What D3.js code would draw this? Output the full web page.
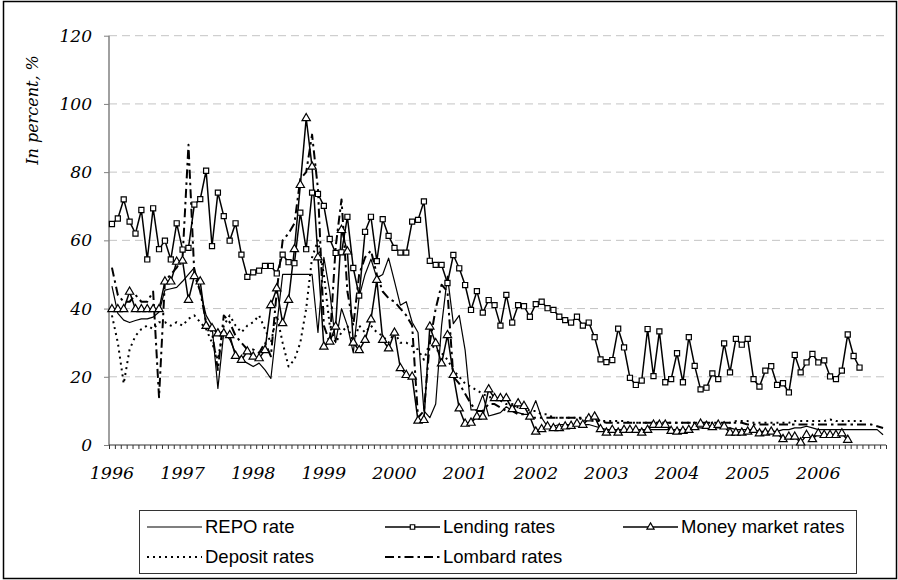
<!DOCTYPE html>
<html><head><meta charset="utf-8">
<script src="https://cdn.jsdelivr.net/npm/d3@7/dist/d3.min.js"></script>
<style>body{margin:0;background:#fff}svg{display:block}</style>
</head><body>
<svg id="chart" width="898" height="580"></svg>
<script>
// ---- data ----
const years = [1996,1997,1998,1999,2000,2001,2002,2003,2004,2005,2006];
const monthsPerYear = 12;
const yTicks = [0,20,40,60,80,100,120];
const seriesNames = ["REPO rate","Lending rates","Money market rates","Deposit rates","Lombard rates"];

const repoRate = [
 46.6,38.6,36.6,35.9,36.5,37,37,37.5,39,45.4,45.8,46.2,
 48,50,52,45,38,35,16.6,33,31,27,25,24,
 23,24,22,19.5,35,50,50,50,50,50,50,33,
 55,45,30,40,35,27,43.5,50,54.5,49,50,54.8,
 48,41,42,36,33,10,8,12,35,49.5,35.6,38,
 27.8,10.3,10.3,14.7,8.5,9,9.5,11.2,10,9.5,9,9,
 13,8,5.4,5.5,6,6,6,6,6,6,5.5,5,
 4.5,4.5,4.5,4.5,4.5,4.5,4.5,4.5,4.5,4.5,4.5,4.5,
 4.5,4.5,4.5,5,5,5,5,5,5,5,4.5,4.5,
 4.5,4.5,4,4,4,4,4.5,4.5,5,5,5.5,5,
 4.5,4.5,4.5,4.5,4.5,4.5,4.5,4.5,4.5,4.5,4.5,3];

const lendingRates = [
 64.8,66.4,72.0,65.5,62.0,68.9,54.4,69.4,57.4,59.9,54.4,65.0,
 57.3,57.8,70.5,72.1,80.4,58.3,74.0,67.1,59.9,65.0,55.8,49.3,
 50.6,51.1,52.5,52.5,50.3,55.8,53.6,53.3,68.1,57.4,74.0,73.6,
 70.1,60.4,56.3,56.5,66.9,51.9,43.8,62.5,66.9,53.9,66.2,61.3,
 57.8,56.4,56.4,65.5,66.0,71.4,54.0,52.8,52.8,47.5,55.7,51.8,
 46.9,39.6,45.1,38.8,42.5,41.0,35.0,44.0,35.9,41.0,40.7,37.6,
 41.3,42.0,40.1,39.6,37.6,36.6,35.9,37.6,35.0,35.9,31.6,25.1,
 24.3,24.9,34.1,28.6,19.7,17.6,18.9,34.0,20.2,33.3,18.4,19.3,
 26.9,18.4,31.6,23.2,16.3,16.8,21.0,19.3,29.8,21.3,31.1,29.4,
 31.1,19.3,17.1,21.8,23.1,17.6,18.1,15.4,26.4,21.3,24.2,26.7,
 24.2,24.8,20.1,19.3,21.8,32.4,26.1,22.7];

const moneyMarketRates = [
 39.8,39.8,39.8,44.9,39.8,39.8,39.8,39.8,39.8,47.9,47.9,53.7,
 54.0,42.5,49.5,47.9,34.9,34.2,32.7,32.7,32.2,26.1,24.9,27.4,
 25.9,25.4,27.8,41.0,45.9,35.7,42.5,57.4,76.2,95.8,81.6,55.0,
 28.8,30.3,34.7,63.0,56.7,30.0,27.8,30.8,36.8,48.4,30.8,28.3,
 32.9,22.5,20.5,20.0,7.1,7.3,34.7,29.8,23.9,32.2,20.5,10.7,
 6.2,6.5,8.3,8.3,16.3,13.7,13.7,13.7,10.5,12.2,11.4,8.3,
 3.9,4.6,5.4,4.9,4.9,5.4,5.6,6.2,5.9,7.8,8.3,4.6,
 3.6,4.4,3.6,4.4,4.4,4.4,3.6,4.4,5.9,5.9,5.9,4.1,
 3.9,4.1,4.4,5.2,6.2,5.6,5.2,5.9,5.4,3.6,3.6,3.6,
 3.9,4.4,3.4,3.6,3.9,3.4,1.7,2.4,2.4,0.7,2.9,1.7,
 3.4,2.9,2.9,2.9,3.4,1.5];

const depositRates = [
 38,30,18,28,32,34,35,34,36,36,35,36,
 35,37,38,36,34,30,25,35,38,35,33,35,
 36,38,34,30,38,30,23,25,30,40,55,60,
 50,35,30,33,35,30,35,33,35,33,32,30,
 33,30,30,29,28,25,30,28,27,25,22,20,
 18,17,16,15,14,14,13,12,12,11,11,10,
 10,9,9,8,8,8,8,8,7.5,7.5,7,7,
 7,7,7,7,6.5,6.5,6.5,6.5,6.5,6.5,6.5,6.5,
 6.5,6.5,6.5,6.5,6.5,6.5,6.5,6.5,6.5,6.5,7,7,
 7,6.5,6.5,6.5,6.5,6.5,6.5,6.5,7,7,7,7,
 7,7,7.5,7,7,7,7,7,7,null,null,null];

const lombardRates = [
 52,44,42,42,44,42,42,45,14,48,50,52,
 55,88,50,45,36,33,22,38,36,32,30,28,
 28,27,30,26,45,60,62,65,78,80,91,75,
 35,30,58,72,45,35,50,55,57,50,45,43,
 42,40,38,35,8,10,30,40,47,45,20,18,
 15,12,10,10,12,12,11,10,10,9,9,8,
 8,8,8,8,8,8,8,8,8,8,8,7,
 6.5,6.5,6.5,6.5,6.5,6.5,6.5,6.5,6.5,6.5,6.5,6.5,
 6.5,6.5,6.5,6.5,6.5,6.5,6.5,6.5,6.5,6.5,6.5,6.5,
 6,6,6,6,6,6,6,6,6,6,6,6,
 6,6,6,6,6,6,6,6,6,6,5.5,5];

// ---- build ----
const categories = [];
years.forEach(y => { for (let m = 1; m <= monthsPerYear; m++) categories.push(y + "-" + m); });

const svg = d3.select("#chart");
const W = 898, H = 580;
const plot = {left: 109, right: 886, top: 35.7, bottom: 445};

svg.append("rect").attr("x",0).attr("y",0).attr("width",W).attr("height",H).attr("fill","#fff");
svg.append("rect").attr("x",3.5).attr("y",1.5).attr("width",893).attr("height",577)
  .attr("fill","none").attr("stroke","#000").attr("stroke-width",1.5);

const x = d3.scalePoint().domain(categories).range([plot.left, plot.right]).padding(0.5);
const xb = d3.scaleLinear().domain([0, categories.length]).range([plot.left, plot.right]);
const y = d3.scaleLinear().domain([0,120]).range([plot.bottom, plot.top]);

// gridlines
svg.append("g").selectAll("line").data(yTicks.filter(d => d > 0)).join("line")
  .attr("x1", plot.left).attr("x2", plot.right)
  .attr("y1", d => y(d)).attr("y2", d => y(d))
  .attr("stroke","#c4c4c4").attr("stroke-width",1).attr("stroke-dasharray","8,5");

// y axis
const yAxis = svg.append("g").attr("transform",`translate(${plot.left},0)`)
  .call(d3.axisLeft(y).tickValues(yTicks).tickSize(5).tickPadding(12).tickFormat(d3.format("d")));
yAxis.select(".domain").attr("stroke","#808080").attr("stroke-width",1.5).attr("d",`M0,${plot.top}V${plot.bottom}`);
yAxis.selectAll(".tick line").attr("stroke","#808080");
yAxis.selectAll(".tick text").attr("font-family","'DejaVu Serif'").attr("font-style","italic")
  .attr("font-size",17).attr("fill","#000");

// x axis ticks at category boundaries
const xAxis = svg.append("g").attr("transform",`translate(0,${plot.bottom})`)
  .call(d3.axisBottom(xb).tickValues(d3.range(categories.length+1)).tickSize(4).tickFormat(""));
xAxis.select(".domain").attr("stroke","#333").attr("stroke-width",1.2).attr("d",`M${plot.left},0H${plot.right}`);
xAxis.selectAll(".tick line").attr("stroke","#333");

// year labels (at January categories)
svg.append("g").selectAll("text").data(years).join("text")
  .attr("x", d => x(d + "-1")).attr("y", 479)
  .attr("text-anchor","middle")
  .attr("font-family","'DejaVu Serif'").attr("font-style","italic").attr("font-size",17.5)
  .attr("fill","#000").text(d => d);

// y title
svg.append("text").attr("transform","translate(38,110) rotate(-90)")
  .attr("text-anchor","middle").attr("font-family","'DejaVu Serif'").attr("font-style","italic")
  .attr("font-size",16).attr("fill","#000").text("In percent, %");

// series
const styles = [
  {data: repoRate, width: 1.2, dash: null, marker: null},
  {data: lendingRates, width: 1.5, dash: null, marker: "square"},
  {data: moneyMarketRates, width: 1.5, dash: null, marker: "triangle"},
  {data: depositRates, width: 2, dash: "2,4", marker: null},
  {data: lombardRates, width: 2, dash: "9,4,2.5,4", marker: null}
];

const line = d3.line().defined(d => d.v != null).x(d => x(d.c)).y(d => y(d.v));
const sq = d3.symbol().type(d3.symbolSquare).size(26);
const tri = d3.symbol().type(d3.symbolTriangle).size(30);

styles.forEach(s => {
  const pts = s.data.map((v,i) => ({c: categories[i], v}));
  svg.append("path").datum(pts).attr("d", line).attr("fill","none")
    .attr("stroke","#000").attr("stroke-width", s.width)
    .attr("stroke-dasharray", s.dash).attr("stroke-linejoin","round");
});
styles.forEach(s => {
  if (!s.marker) return;
  const pts = s.data.map((v,i) => ({c: categories[i], v})).filter(d => d.v != null);
  svg.append("g").selectAll("path").data(pts).join("path")
    .attr("transform", d => `translate(${x(d.c)},${y(d.v)})`)
    .attr("d", s.marker === "square" ? sq : tri)
    .attr("fill","#fff").attr("stroke","#000").attr("stroke-width",1.2);
});

// legend
const lg = svg.append("g");
lg.append("rect").attr("x",139.5).attr("y",510.5).attr("width",717).attr("height",63)
  .attr("fill","#fff").attr("stroke","#333").attr("stroke-width",1);
const legendPos = [[147,527],[385,527],[623,527],[147,557],[385,557]];
styles.forEach((s,i) => {
  const [lx, ly] = legendPos[i];
  lg.append("line").attr("x1",lx).attr("x2",lx+55).attr("y1",ly).attr("y2",ly)
    .attr("stroke","#000").attr("stroke-width",s.width).attr("stroke-dasharray",s.dash);
  if (s.marker) {
    lg.append("path").attr("transform",`translate(${lx+27.5},${ly})`)
      .attr("d", (s.marker === "square" ? d3.symbol().type(d3.symbolSquare).size(20) : d3.symbol().type(d3.symbolTriangle).size(22))())
      .attr("fill","#fff").attr("stroke","#000").attr("stroke-width",1.2);
  }
  lg.append("text").attr("x",lx+58).attr("y",ly+6)
    .attr("font-family","'Liberation Sans', Arial, sans-serif").attr("font-size",18.5)
    .attr("fill","#000").text(seriesNames[i]);
});
</script>
</body></html>
